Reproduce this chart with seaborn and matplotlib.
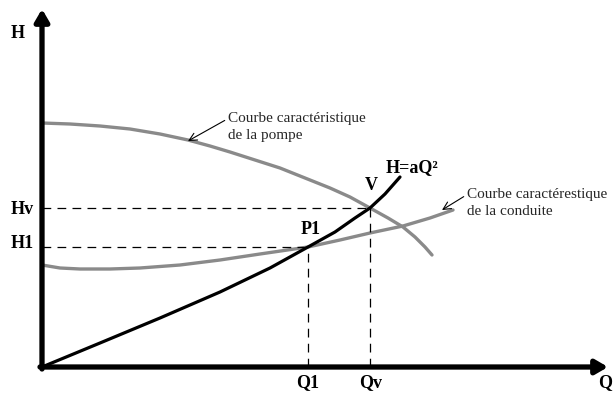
import matplotlib
matplotlib.use('Agg')
import matplotlib.pyplot as plt
import seaborn as sns

sns.set_theme(style='white')
plt.rcParams['font.family'] = ['Liberation Serif', 'DejaVu Serif']

pump_q = [0, 28, 58, 88, 118, 146, 168, 188, 213, 238, 263, 288, 308, 328, 346, 361, 373, 383, 390]
pump_h = [244, 243, 241, 238, 233, 227, 221, 215, 207, 199, 189, 179, 170, 159, 149, 140, 130, 120, 112]

pipe_q = [0, 18, 38, 68, 98, 138, 178, 218, 266, 298, 328, 361, 388, 411]
pipe_h = [102, 99, 98, 98, 99, 102, 107, 113, 120, 127, 134, 141, 149, 157]

quad_q = [0, 58, 118, 178, 228, 266, 293, 313, 328, 343, 358]
quad_h = [0, 24, 49, 75, 99, 120, 135, 149, 159, 173, 190]

# points de fonctionnement
p1 = (266, 120)
pv = (328, 159)

fig = plt.figure(figsize=(6.13, 3.94), dpi=100)
ax = fig.add_axes([0, 0, 1, 1])
ax.set_xlim(-42, 571)
ax.set_ylim(-27, 367)
ax.axis('off')

grey = '#8a8a8a'
sns.lineplot(x=pump_q, y=pump_h, ax=ax, color=grey, linewidth=2.4, sort=False)
sns.lineplot(x=pipe_q, y=pipe_h, ax=ax, color=grey, linewidth=2.4, sort=False)
sns.lineplot(x=quad_q, y=quad_h, ax=ax, color='black', linewidth=2.3, sort=False)

# lignes de rappel
dash = dict(color='black', lw=0.9, ls=(0, (7, 5)))
ax.plot([0, p1[0]], [p1[1], p1[1]], **dash)
ax.plot([p1[0], p1[0]], [0, p1[1]], **dash)
ax.plot([0, pv[0]], [pv[1], pv[1]], **dash)
ax.plot([pv[0], pv[0]], [0, pv[1]], **dash)

# axes fléchés
axis_arrow = dict(arrowstyle='-|>,head_length=0.6,head_width=0.35', color='black', lw=3.8,
                  shrinkA=0, shrinkB=0)
ax.annotate('', xy=(0, 358), xytext=(0, -2), arrowprops=axis_arrow)
ax.annotate('', xy=(566, 0), xytext=(-2, 0), arrowprops=axis_arrow)

bold = dict(fontsize=13, fontweight='bold', color='black', va='center')
ax.text(-24, 334, 'H', ha='center', **bold)
ax.text(-20, 158, 'Hv', ha='center', **bold)
ax.text(-20, 124, 'H1', ha='center', **bold)
ax.text(p1[0] + 3, 138, 'P1', ha='center', **bold)
ax.text(pv[0] + 1, 182, 'V', ha='center', **bold)
ax.text(344, 199, 'H=aQ²', ha='left', **bold)
ax.text(p1[0], -16, 'Q1', ha='center', **bold)
ax.text(pv[0] + 1, -16, 'Qv', ha='center', **bold)
ax.text(556, -16, 'Q', ha='left', **bold)

note_arrow = dict(arrowstyle='->,head_length=0.5,head_width=0.25', color='black', lw=0.8,
                  shrinkA=0, shrinkB=0)
ax.annotate('Courbe caractéristique\nde la pompe', xy=(146, 226), xytext=(186, 240),
            fontsize=11, ha='left', va='center', linespacing=1.4,
            arrowprops=dict(note_arrow, relpos=(0, 0.78)))
ax.annotate('Courbe caractérestique\nde la conduite', xy=(400, 157), xytext=(425, 164),
            fontsize=11, ha='left', va='center', linespacing=1.4,
            arrowprops=dict(note_arrow, relpos=(0, 0.78)))

fig.savefig('out.png', dpi=100)
